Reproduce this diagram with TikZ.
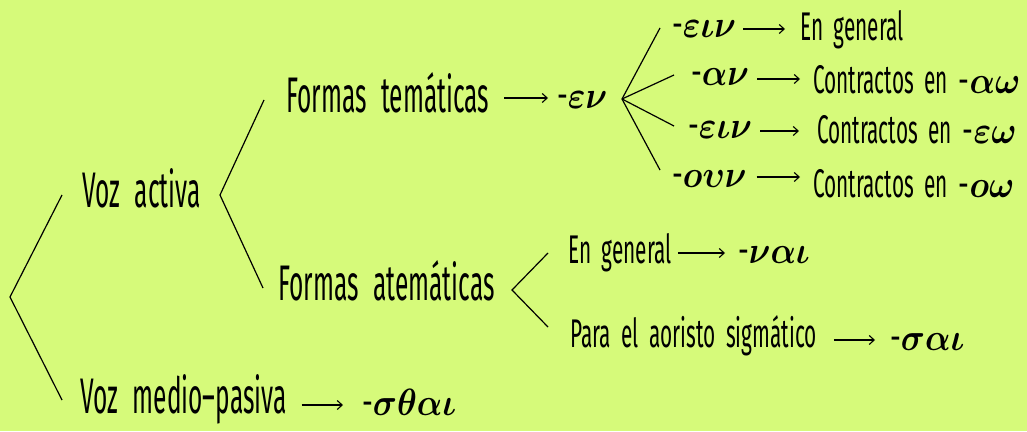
\RequirePackage{fix-cm}
\documentclass[tikz,border=0pt]{standalone}
\usepackage{amsmath}
\usepackage{amssymb}
\usepackage{fontspec}
\usepackage{xcolor}
\usepackage{tikz}
\usetikzlibrary{arrows.meta}
\setmainfont{Fira Sans}
\definecolor{bgcol}{RGB}{214,250,122}
\newcommand{\hwbig}[1]{\scalebox{0.49}[1]{\fontsize{50}{54}\selectfont\spaceskip=0.6em #1}}
\newcommand{\hwmid}[1]{\scalebox{0.52}[1]{\fontsize{40}{44}\selectfont\spaceskip=0.5em #1}}
\newcommand{\grk}[1]{{\fontsize{38}{42}\selectfont\scalebox{0.88}[1]{\scalebox{0.8}[1]{-}$\boldsymbol{#1}$}}}
\tikzset{
  lbl/.style={inner sep=0pt, anchor=base west},
  arr/.style={-{Straight Barb[length=5pt,width=9pt]}, line width=1.1pt},
  brk/.style={line width=1.2pt},
}

\begin{document}
\begin{tikzpicture}[x=1pt,y=-1pt]
    \fill[bgcol] (0,0) rectangle (1027,431);
    \useasboundingbox (0,0) rectangle (1027,431);

    % first level
    \node[lbl] (va) at (82,207) {\hwbig{Voz activa}};
    \node[lbl] (vmp) at (80,413) {\hwbig{Voz medio--pasiva}};
    \node[lbl] (mp) at (362,415) {\grk{\sigma\theta\alpha\iota}};

    % second level
    \node[lbl] (ftem) at (286,112) {\hwbig{Formas temáticas}};
    \node[lbl] (fatem) at (278,300) {\hwbig{Formas atemáticas}};
    \node[lbl] (en) at (557,108) {\grk{\varepsilon\nu}};

    % thematic endings
    \node[lbl] (r1) at (672,37) {\grk{\varepsilon\iota\nu}};
    \node[lbl] (r2) at (691,85) {\grk{\alpha\nu}};
    \node[lbl] (r3) at (688,138) {\grk{\varepsilon\iota\nu}};
    \node[lbl] (r4) at (672,187) {\grk{o\upsilon\nu}};
    \node[lbl] (d1) at (800,40) {\hwmid{En general}};
    \node[lbl] (d2) at (813,93) {\hwmid{Contractos en}\hspace{11pt}\grk{\alpha\omega}};
    \node[lbl] (d3) at (817,143) {\hwmid{Contractos en}\hspace{11pt}\grk{\varepsilon\omega}};
    \node[lbl] (d4) at (813,197) {\hwmid{Contractos en}\hspace{11pt}\grk{o\omega}};

    % athematic endings
    \node[lbl] (g1) at (568,263) {\hwmid{En general}};
    \node[lbl] (g2) at (738,263) {\grk{\nu\alpha\iota}};
    \node[lbl] (s1) at (570,347) {\hwmid{Para el aoristo sigmático}};
    \node[lbl] (s2) at (890,350) {\grk{\sigma\alpha\iota}};

    % brackets
    \coordinate (b0) at (10,297);
    \coordinate (b0a) at (62,195);
    \coordinate (b0b) at (62,400);
    \coordinate (b1) at (220,195);
    \coordinate (b1a) at (264,100);
    \coordinate (b1b) at (263,288);
    \coordinate (b2) at (622,99);
    \coordinate (b2a) at (660,28);
    \coordinate (b2b) at (674,75);
    \coordinate (b2c) at (674,126);
    \coordinate (b2d) at (660,170);
    \coordinate (b3) at (512,290);
    \coordinate (b3a) at (548,253);
    \coordinate (b3b) at (548,327);

    \draw[brk] (b0a) -- (b0) -- (b0b);
    \draw[brk] (b1a) -- (b1) -- (b1b);
    \draw[brk] (b2) -- (b2a);
    \draw[brk] (b2) -- (b2b);
    \draw[brk] (b2) -- (b2c);
    \draw[brk] (b2) -- (b2d);
    \draw[brk] (b3a) -- (b3) -- (b3b);

    % arrows
    \draw[arr] ([xshift=15pt,yshift=14pt]ftem.base east) -- ([xshift=-9pt,yshift=10pt]en.base west);
    \draw[arr] ([xshift=7pt,yshift=8pt]r1.base east) -- ([xshift=-15pt,yshift=11pt]d1.base west);
    \draw[arr] ([xshift=8pt,yshift=6pt]r2.base east) -- ([xshift=-13pt,yshift=14pt]d2.base west);
    \draw[arr] ([xshift=8pt,yshift=7pt]r3.base east) -- ([xshift=-18pt,yshift=12pt]d3.base west);
    \draw[arr] ([xshift=10pt,yshift=10pt]r4.base east) -- ([xshift=-13pt,yshift=20pt]d4.base west);
    \draw[arr] ([xshift=6pt,yshift=10pt]g1.base east) -- ([xshift=-13pt,yshift=10pt]g2.base west);
    \draw[arr] ([xshift=17pt,yshift=7pt]s1.base east) -- ([xshift=-15pt,yshift=10pt]s2.base west);
    \draw[arr] ([xshift=15pt,yshift=8pt]vmp.base east) -- ([xshift=-19pt,yshift=10pt]mp.base west);
\end{tikzpicture}
\end{document}
